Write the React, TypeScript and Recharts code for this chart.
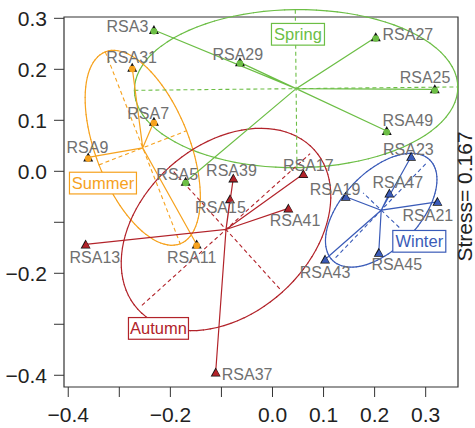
import React from 'react';
import { ComposedChart, Scatter, XAxis, YAxis, ReferenceLine, ReferenceArea } from 'recharts';

// ---- data (NMDS scores) ----
const springNames = ['RSA3', 'RSA29', 'RSA27', 'RSA25', 'RSA49', 'RSA5'];
const springX = [-0.2322, -0.0637, 0.2022, 0.3178, 0.2237, -0.1701];
const springY = [0.2771, 0.2137, 0.2628, 0.1607, 0.0789, -0.0206];

const summerNames = ['RSA31', 'RSA7', 'RSA9', 'RSA11'];
const summerX = [-0.2747, -0.2322, -0.3609, -0.1485];
const summerY = [0.2031, 0.0971, 0.0273, -0.1434];

const autumnNames = ['RSA39', 'RSA15', 'RSA17', 'RSA41', 'RSA13', 'RSA37'];
const autumnX = [-0.0768, -0.0833, 0.0603, 0.031, -0.366, -0.1113];
const autumnY = [-0.0139, -0.0546, -0.0055, -0.0728, -0.1434, -0.3946];

const winterNames = ['RSA23', 'RSA19', 'RSA47', 'RSA21', 'RSA43', 'RSA45'];
const winterX = [0.2714, 0.1434, 0.2288, 0.3229, 0.1029, 0.2081];
const winterY = [0.0285, -0.05, -0.0434, -0.0599, -0.1729, -0.1599];

// ellipse parameters per season (semi-axes in data units, rotation in degrees)
const seasons = ['Spring', 'Summer', 'Autumn', 'Winter'];
const ellipseA = [0.3167, 0.202, 0.233, 0.137];
const ellipseB = [0.155, 0.092, 0.165, 0.075];
const ellipseAngle = [0.6, -68.7, 42.1, 46.2];
const axisHalfA = [0.3167, 0.202, 0.222, 0.129];
const axisHalfB = [0.155, 0.092, 0.157, 0.049];

const xTicks = [-0.4, -0.3, -0.2, -0.1, 0, 0.1, 0.2, 0.3];
const xTickLabels = [-0.4, -0.2, 0, 0.1, 0.2, 0.3];
const yTicks = [-0.4, -0.3, -0.2, -0.1, 0, 0.1, 0.2, 0.3];
const yTickLabels = [-0.4, -0.2, 0, 0.1, 0.2, 0.3];
const stressText = 'Stress= 0.167';

// ---- layout / style ----
const XD: [number, number] = [-0.4083, 0.3633];
const YD: [number, number] = [-0.423, 0.3026];
const FONT = '"Liberation Sans", Arial, Helvetica, sans-serif';
const colors: Record<string, string> = {
  Spring: '#6CBE45',
  Summer: '#F6A21E',
  Autumn: '#B2232A',
  Winter: '#3A5BB8',
};
const groupLabelPos: Record<string, [number, number]> = {
  Spring: [0.0499, 0.2687],
  Summer: [-0.332, -0.0231],
  Autumn: [-0.2233, -0.3081],
  Winter: [0.2875, -0.1373],
};
const groupBoxW: Record<string, number> = { Spring: 53, Summer: 67, Autumn: 60, Winter: 53 };
const labelOffset: Record<string, [number, number]> = {
  RSA3: [-26.5, -4], RSA31: [-0.6, -10.5], RSA7: [-5.7, -7.9], RSA9: [-0.8, -9.8],
  RSA5: [-8.4, -7.5], RSA39: [-1.8, -7.5], RSA15: [-9.5, 8.5], RSA29: [-2.2, -8.1],
  RSA27: [32.1, -3.1], RSA25: [-9.7, -11.8], RSA49: [21.1, -10.2], RSA23: [-2.7, -7.5],
  RSA17: [5, -8.2], RSA19: [-10.7, -7.5], RSA47: [8.5, -10.8], RSA21: [-9.5, 14.1],
  RSA41: [6.7, 12.5], RSA43: [0, 12.7], RSA45: [18, 11.8], RSA13: [9.3, 13.2],
  RSA11: [-5, 13.2], RSA37: [31.5, 1.9],
};

type Pt = { x: number; y: number; name?: string; season?: string };

const build = (names: string[], xs: number[], ys: number[], season: string): Pt[] =>
  names.map((n, i) => ({ x: xs[i], y: ys[i], name: n, season }));

const groups: Pt[][] = [
  build(springNames, springX, springY, 'Spring'),
  build(summerNames, summerX, summerY, 'Summer'),
  build(autumnNames, autumnX, autumnY, 'Autumn'),
  build(winterNames, winterX, winterY, 'Winter'),
];

const centroid = (pts: Pt[]) => ({
  x: pts.reduce((s, p) => s + p.x, 0) / pts.length,
  y: pts.reduce((s, p) => s + p.y, 0) / pts.length,
});

const ellipsePts = (c: { x: number; y: number }, a: number, b: number, angDeg: number): Pt[] => {
  const t = (angDeg * Math.PI) / 180;
  const out: Pt[] = [];
  const n = 96;
  for (let i = 0; i <= n; i++) {
    const th = (2 * Math.PI * i) / n;
    const u = a * Math.cos(th);
    const v = b * Math.sin(th);
    out.push({ x: c.x + u * Math.cos(t) - v * Math.sin(t), y: c.y + u * Math.sin(t) + v * Math.cos(t) });
  }
  return out;
};

const spiderPts = (c: { x: number; y: number }, pts: Pt[]): Pt[] => {
  const out: Pt[] = [];
  pts.forEach((p) => {
    out.push({ x: c.x, y: c.y });
    out.push({ x: p.x, y: p.y });
  });
  return out;
};

const fmt = (v: number) => {
  const s = Math.abs(v) < 1e-9 ? '0.0' : v.toFixed(1);
  return s.replace('-', '\u2212');
};

const XTick = (props: any) => {
  const { x, y, payload } = props;
  const v = payload.value;
  if (!xTickLabels.some((s) => Math.abs(s - v) < 1e-9)) return <g />;
  return (
    <text x={x} y={y + 25} textAnchor="middle" fontSize={21} fill="#222" fontFamily={FONT}>
      {fmt(v)}
    </text>
  );
};

const YTick = (props: any) => {
  const { x, y, payload } = props;
  const v = payload.value;
  if (!yTickLabels.some((s) => Math.abs(s - v) < 1e-9)) return <g />;
  return (
    <text x={x - 7} y={y + 7.5} textAnchor="end" fontSize={21} fill="#222" fontFamily={FONT}>
      {fmt(v)}
    </text>
  );
};

const emptyShape = () => <g />;

const makeMarker = (color: string, round: boolean) => (props: any) => {
  const { cx, cy } = props;
  return (
    <g>
      <polygon points={`${cx - 5},${cy + 4} ${cx + 5},${cy + 4} ${cx},${cy - 5}`} fill="#111" />
      {round ? (
        <circle cx={cx} cy={cy + 1.2} r={3.3} fill={color} />
      ) : (
        <polygon points={`${cx - 3.6},${cy + 3.2} ${cx + 4.2},${cy + 3.2} ${cx + 0.3},${cy - 3.4}`} fill={color} />
      )}
    </g>
  );
};

const labelShape = (props: any) => {
  const { cx, cy, payload } = props;
  const off = labelOffset[payload.name] || [0, -10];
  return (
    <text
      x={cx + off[0]}
      y={cy + off[1]}
      textAnchor="middle"
      dominantBaseline="central"
      fontSize={16}
      fill="#707070"
      fontFamily={FONT}
    >
      {payload.name}
    </text>
  );
};

const groupBoxShape = (props: any) => {
  const { cx, cy, payload } = props;
  const w = groupBoxW[payload.season];
  const h = 21.7;
  const c = colors[payload.season];
  return (
    <g>
      <rect x={cx - w / 2} y={cy - h / 2} width={w} height={h} fill="#fff" stroke={c} strokeWidth={1.2} />
      <text x={cx} y={cy} textAnchor="middle" dominantBaseline="central" fontSize={16.5} fill={c} fontFamily={FONT}>
        {payload.season}
      </text>
    </g>
  );
};

export default function App() {
  const allPts = groups.flat();
  const groupLabelData = seasons.map((s) => ({ x: groupLabelPos[s][0], y: groupLabelPos[s][1], season: s }));

  return (
    <div style={{ position: 'absolute', left: 0, top: 0, width: 475, height: 428, background: '#fff' }}>
      <ComposedChart width={475} height={428} margin={{ top: 17, right: 17, bottom: 0, left: 0 }}>
        <XAxis
          dataKey="x"
          type="number"
          domain={XD}
          allowDataOverflow
          ticks={xTicks}
          tick={XTick}
          tickSize={10}
          tickMargin={0}
          axisLine={false}
          tickLine={{ stroke: '#333', strokeWidth: 1 }}
          height={41}
          interval={0}
        />
        <YAxis
          dataKey="y"
          type="number"
          domain={YD}
          allowDataOverflow
          ticks={yTicks}
          tick={YTick}
          tickSize={10}
          tickMargin={0}
          axisLine={false}
          tickLine={{ stroke: '#333', strokeWidth: 1 }}
          width={64}
          interval={0}
        />
        <ReferenceArea x1={XD[0]} x2={XD[1]} y1={YD[0]} y2={YD[1]} fill="none" stroke="#333" strokeWidth={1.2} fillOpacity={0} ifOverflow="visible" />

        {groups.map((pts, gi) => {
          const s = seasons[gi];
          const c = centroid(pts);
          const ep = ellipsePts(c, ellipseA[gi], ellipseB[gi], ellipseAngle[gi]);
          return (
            <React.Fragment key={`ell-${s}`}>
              {ep.slice(1).map((p, i) => (
                <ReferenceLine
                  key={`e-${s}-${i}`}
                  segment={[
                    { x: ep[i].x, y: ep[i].y },
                    { x: p.x, y: p.y },
                  ]}
                  stroke={colors[s]}
                  strokeWidth={1.2}
                  strokeLinecap="round"
                  ifOverflow="visible"
                />
              ))}
            </React.Fragment>
          );
        })}

        {groups.map((pts, gi) => {
          const s = seasons[gi];
          const c = centroid(pts);
          const t = (ellipseAngle[gi] * Math.PI) / 180;
          const da = axisHalfA[gi];
          const db = axisHalfB[gi];
          return (
            <React.Fragment key={`ax-${s}`}>
              <ReferenceLine
                segment={[
                  { x: c.x - da * Math.cos(t), y: c.y - da * Math.sin(t) },
                  { x: c.x + da * Math.cos(t), y: c.y + da * Math.sin(t) },
                ]}
                stroke={colors[s]}
                strokeWidth={1.1}
                strokeDasharray="4 3"
                ifOverflow="visible"
              />
              <ReferenceLine
                segment={[
                  { x: c.x + db * Math.sin(t), y: c.y - db * Math.cos(t) },
                  { x: c.x - db * Math.sin(t), y: c.y + db * Math.cos(t) },
                ]}
                stroke={colors[s]}
                strokeWidth={1.1}
                strokeDasharray="4 3"
                ifOverflow="visible"
              />
            </React.Fragment>
          );
        })}

        {groups.map((pts, gi) => {
          const s = seasons[gi];
          const c = centroid(pts);
          return (
            <Scatter
              key={`spider-${s}`}
              data={spiderPts(c, pts)}
              fill={colors[s]}
              line={{ stroke: colors[s], strokeWidth: 1.2 }}
              lineType="joint"
              shape={emptyShape}
              isAnimationActive={false}
            />
          );
        })}

        {groups.map((pts, gi) => {
          const s = seasons[gi];
          return (
            <Scatter
              key={`pts-${s}`}
              data={pts}
              fill={colors[s]}
              shape={makeMarker(colors[s], s === 'Spring' || s === 'Summer')}
              isAnimationActive={false}
            />
          );
        })}

        <Scatter data={allPts} fill="#707070" shape={labelShape} isAnimationActive={false} />
        <Scatter data={groupLabelData} fill="#fff" shape={groupBoxShape} isAnimationActive={false} />
      </ComposedChart>
      <svg width={475} height={428} style={{ position: 'absolute', left: 0, top: 0, pointerEvents: 'none' }}>
        <text
          x={472}
          y={196.5}
          transform="rotate(-90, 472, 196.5)"
          textAnchor="middle"
          fontSize={21}
          fill="#222"
          fontFamily={FONT}
        >
          {stressText}
        </text>
      </svg>
    </div>
  );
}
